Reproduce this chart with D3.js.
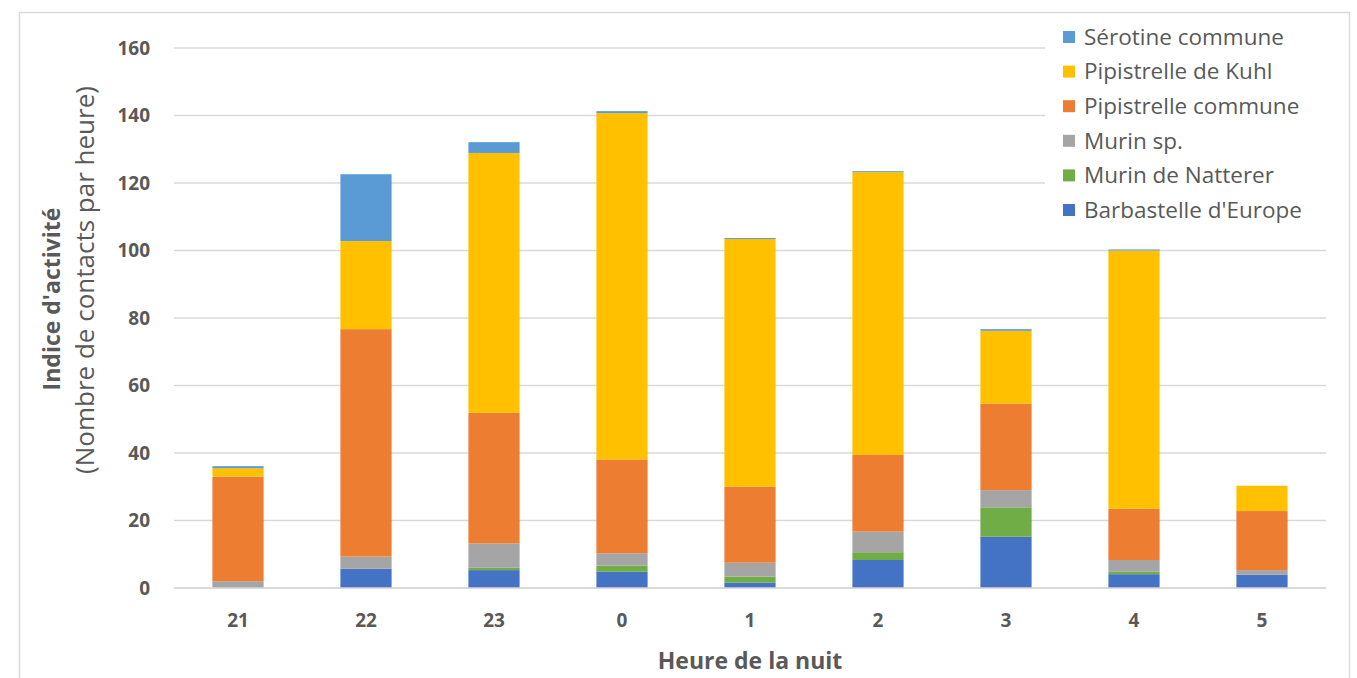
<!DOCTYPE html>
<html>
<head>
<meta charset="utf-8">
<script src="https://cdn.jsdelivr.net/npm/d3@7"></script>
<style>
  html, body { margin: 0; padding: 0; background: #fff; }
  svg { display: block; }
  text { font-family: "Open Sans", "Noto Sans", sans-serif; }
</style>
</head>
<body>
<svg id="chart" width="1357" height="678"></svg>
<script>
// Hours of the night (x categories)
const hours = ["21", "22", "23", "0", "1", "2", "3", "4", "5"];

// Contacts per hour, one array per species (stack order bottom → top)
const barbastelle = [0, 5.7, 5.3, 4.8, 1.6, 8.3, 15.2, 4.1, 3.9];
const natterer    = [0, 0, 0.7, 1.8, 1.8, 2.3, 8.7, 0.7, 0];
const murinSp     = [2, 3.6, 7.2, 3.7, 4.1, 6.1, 5.1, 3.5, 1.4];
const pipCommune  = [31, 67.4, 38.7, 27.8, 22.5, 22.7, 25.6, 15.2, 17.5];
const pipKuhl     = [2.5, 26.1, 77, 102.6, 73.4, 83.8, 21.6, 76.5, 7.5];
const serotine    = [0.6, 19.8, 3.2, 0.6, 0.3, 0.3, 0.5, 0.3, 0];

const yTicks = [0, 20, 40, 60, 80, 100, 120, 140, 160];

const series = [
  { key: "barb", name: "Barbastelle d'Europe", values: barbastelle, color: "#4472C4" },
  { key: "natt", name: "Murin de Natterer",   values: natterer,    color: "#70AD47" },
  { key: "murin", name: "Murin sp.",          values: murinSp,     color: "#A5A5A5" },
  { key: "pipc", name: "Pipistrelle commune", values: pipCommune,  color: "#ED7D31" },
  { key: "kuhl", name: "Pipistrelle de Kuhl", values: pipKuhl,     color: "#FFC000" },
  { key: "sero", name: "Sérotine commune",    values: serotine,    color: "#5B9BD5" }
];

const rows = hours.map((h, i) => {
  const r = { hour: h };
  series.forEach(s => r[s.key] = s.values[i]);
  return r;
});

const svg = d3.select("#chart");

// chart frame
svg.append("rect")
  .attr("x", 19.5).attr("y", 12.5)
  .attr("width", 1330).attr("height", 700)
  .attr("fill", "#fff").attr("stroke", "#d9d9d9").attr("stroke-width", 1.5);

const plot = { left: 174, right: 1326, top: 48, bottom: 588 };

const x = d3.scaleBand().domain(hours).range([plot.left, plot.right]).paddingInner(0.6).paddingOuter(0.3);
const y = d3.scaleLinear().domain([0, 160]).range([plot.bottom, plot.top]);

// gridlines
svg.append("g")
  .selectAll("line").data(yTicks).join("line")
  .attr("x1", plot.left).attr("x2", plot.right)
  .attr("y1", d => y(d)).attr("y2", d => y(d))
  .attr("stroke", "#d9d9d9").attr("stroke-width", 1.5);

// y tick labels
const yAxis = svg.append("g")
  .attr("transform", `translate(${plot.left},0)`)
  .call(d3.axisLeft(y).tickValues(yTicks).tickSize(0).tickPadding(24));
yAxis.select(".domain").remove();
yAxis.selectAll("text")
  .attr("fill", "#595959").attr("font-size", 19).attr("font-weight", 700)
  .attr("font-family", "'Open Sans', sans-serif");

// stacked bars
const stack = d3.stack().keys(series.map(s => s.key));
const layers = stack(rows);

svg.append("g")
  .selectAll("g").data(layers).join("g")
  .attr("fill", (d, i) => series[i].color)
  .selectAll("rect").data(d => d.filter(p => p[1] - p[0] > 0)).join("rect")
  .attr("x", d => x(d.data.hour))
  .attr("width", x.bandwidth())
  .attr("y", d => y(d[1]))
  .attr("height", d => y(d[0]) - y(d[1]));

// x axis line and labels
svg.append("line")
  .attr("x1", plot.left).attr("x2", plot.right)
  .attr("y1", plot.bottom).attr("y2", plot.bottom)
  .attr("stroke", "#d9d9d9").attr("stroke-width", 1.5);

const xAxis = svg.append("g")
  .attr("transform", `translate(0,${plot.bottom})`)
  .call(d3.axisBottom(x).tickSize(0).tickPadding(26));
xAxis.select(".domain").remove();
xAxis.selectAll("text")
  .attr("fill", "#595959").attr("font-size", 19).attr("font-weight", 700)
  .attr("font-family", "'Open Sans', sans-serif");

// x axis title
svg.append("text")
  .attr("x", (plot.left + plot.right) / 2).attr("y", 669)
  .attr("text-anchor", "middle")
  .attr("fill", "#595959").attr("font-size", 23).attr("font-weight", 700)
  .text("Heure de la nuit");

// y axis title, two lines
svg.append("text")
  .attr("transform", "translate(60,299) rotate(-90)")
  .attr("text-anchor", "middle")
  .attr("fill", "#595959").attr("font-size", 23).attr("font-weight", 700)
  .text("Indice d'activité");
svg.append("text")
  .attr("transform", "translate(94,280) rotate(-90)")
  .attr("text-anchor", "middle")
  .attr("fill", "#595959").attr("font-size", 26)
  .text("(Nombre de contacts par heure)");

// legend
const legend = svg.append("g");
legend.append("rect")
  .attr("x", 1045).attr("y", 18).attr("width", 285).attr("height", 214)
  .attr("fill", "#fff");
const legendItems = series.slice().reverse();
const li = legend.selectAll("g.item").data(legendItems).join("g")
  .attr("class", "item")
  .attr("transform", (d, i) => `translate(1063,${37 + i * 34.6})`);
li.append("rect")
  .attr("x", 0).attr("y", -6).attr("width", 12).attr("height", 12)
  .attr("fill", d => d.color);
li.append("text")
  .attr("x", 21).attr("y", 0).attr("dy", "0.35em")
  .attr("fill", "#595959").attr("font-size", 22.5)
  .text(d => d.name);
</script>
</body>
</html>
